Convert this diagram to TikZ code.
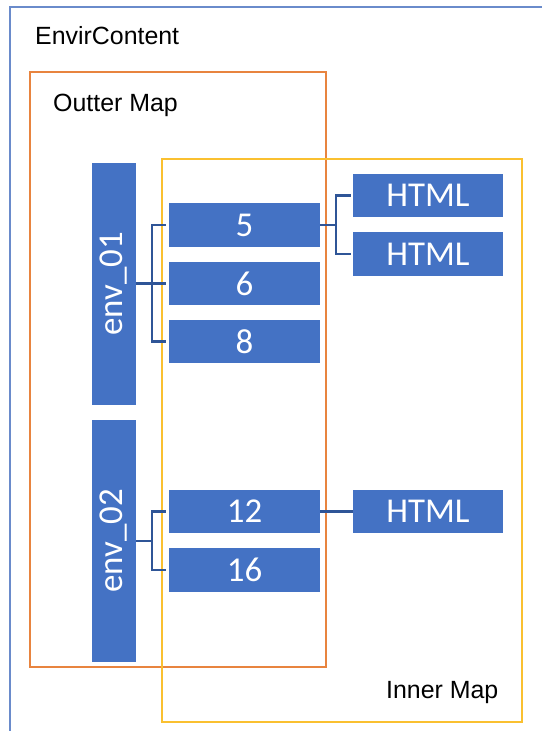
\documentclass[tikz,border=0pt]{standalone}
\usepackage{fontspec}
\setmainfont{Liberation Sans}
\newfontfamily\carlito{Carlito}
\definecolor{boxblue}{HTML}{4472C4}
\definecolor{connblue}{HTML}{2F5597}
\definecolor{frameblue}{HTML}{6A8BCB}
\definecolor{mapor}{HTML}{E8843F}
\definecolor{mapyel}{HTML}{FAC030}
\tikzset{
  boxnode/.style={fill=boxblue, text=white, inner sep=0pt, font=\carlito\fontsize{35}{40}\selectfont},
  hbox/.style={boxnode, minimum width=151bp, minimum height=43.5bp},
  envbox/.style={boxnode, minimum width=44bp, minimum height=242bp},
  conn/.style={draw=connblue, line width=2.4bp},
  lbl/.style={anchor=base west, inner sep=0pt, font=\fontsize{25}{30}\selectfont}
}
\begin{document}
\begin{tikzpicture}[x=1bp,y=-1bp]
\useasboundingbox (0,0) rectangle (542,731);
% frames
\draw[frameblue, line width=2bp] (10,760) |- (560,7);
\draw[mapor, line width=2.4bp] (30,72) rectangle (326,667);
\draw[mapyel, line width=2.8bp] (162,159) rectangle (522,722);
% labels
\node[lbl] (tenv) at (35,45) {EnvirContent};
\node[lbl] (tout) at (53,112) {Outter Map};
\node[lbl] (tinn) at (386,698) {Inner Map};
% boxes
\node[envbox] (env1) at (114,284) {\rotatebox{90}{env\_01}};
\node[envbox] (env2) at (114,541) {\rotatebox{90}{env\_02}};
\node[hbox] (b5) at (244.5,225) {5};
\node[hbox] (b6) at (244.5,283.5) {6};
\node[hbox] (b8) at (244.5,341.5) {8};
\node[hbox] (b12) at (244.5,511.5) {12};
\node[hbox] (b16) at (244.5,570) {16};
\node[hbox, minimum width=150bp] (h1) at (428,195.5) {HTML};
\node[hbox, minimum width=150bp] (h2) at (428,254) {HTML};
\node[hbox, minimum width=150bp] (h3) at (428,511.5) {HTML};
% connectors
\coordinate (j1) at (152,283.5);
\coordinate (j2) at (152,541);
\coordinate (j3) at (336,225);
\draw[conn] (env1.east |- j1) -- (j1) -- ([xshift=-3bp]b6.west);
\draw[conn] ([xshift=-3bp]b5.west) -- (b5.west -| j1) -- (b8.west -| j1) -- ([xshift=-3bp]b8.west);
\draw[conn] (env2.east |- j2) -- (j2);
\draw[conn] ([xshift=-3bp]b12.west) -- (b12.west -| j2) -- (b16.west -| j2) -- ([xshift=-3bp]b16.west);
\draw[conn] (b5.east) -- (j3);
\draw[conn] ([xshift=-2bp]h1.west) -- (h1.west -| j3) -- (h2.west -| j3) -- ([xshift=-2bp]h2.west);
\draw[conn] (b12.east) -- (h3.west);
\end{tikzpicture}
\end{document}
